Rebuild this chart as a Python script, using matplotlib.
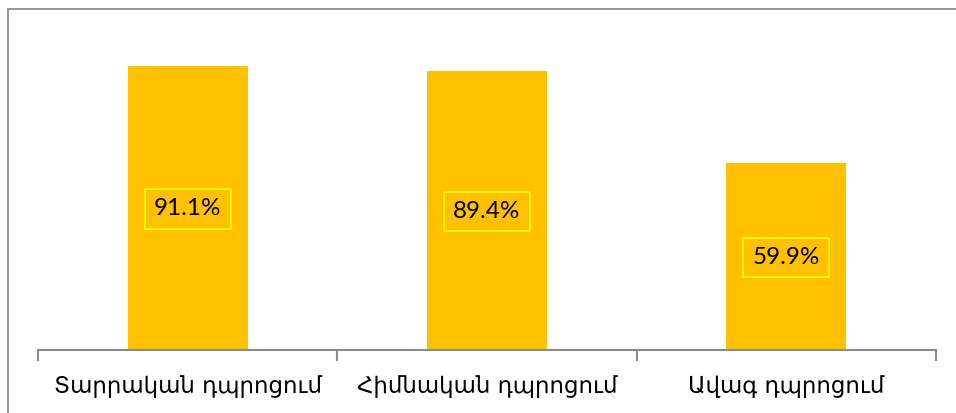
import matplotlib.pyplot as plt
from matplotlib.patches import Rectangle

categories = ['Տարրական դպրոցում', 'Հիմնական դպրոցում', 'Ավագ դպրոցում']
values = [91.1, 89.4, 59.9]
labels = ['91.1%', '89.4%', '59.9%']

W, H = 956, 413
fig = plt.figure(figsize=(W / 100, H / 100), dpi=100)
# outer chart border (top and left edges visible)
fig.patches.append(Rectangle((8 / W, -0.1), 1.2, 1.1 - 9 / H, transform=fig.transFigure,
                             fill=False, edgecolor='#8c8c8c', linewidth=1.3))

ax = fig.add_axes([38 / W, (H - 350) / H, 898 / W, 312 / H])
x = range(len(categories))
ax.bar(x, values, width=0.4, color='#FFC000')
ax.set_xlim(-0.5, 2.5)
ax.set_ylim(0, 100)

for i, (v, lab) in enumerate(zip(values, labels)):
    ax.text(i, v / 2 - 0.3, lab, ha='center', va='center', fontsize=17.5, family=['Lato', 'DejaVu Sans'],
            bbox=dict(boxstyle='square,pad=0.38', facecolor='none', edgecolor='#FFFF00', linewidth=1.2))

for s in ['top', 'right', 'left']:
    ax.spines[s].set_visible(False)
ax.spines['bottom'].set_color('#8c8c8c')
ax.spines['bottom'].set_linewidth(1.5)
ax.set_yticks([])
ax.set_xticks([-0.5, 0.5, 1.5, 2.5])
ax.set_xticklabels([])
ax.tick_params(axis='x', length=8, width=1.5, color='#8c8c8c')
ax.set_xticks(list(x), minor=True)
ax.set_xticklabels(categories, minor=True, fontsize=16.5)
ax.tick_params(axis='x', which='minor', length=0, pad=18)

fig.savefig('out.png', dpi=100)
